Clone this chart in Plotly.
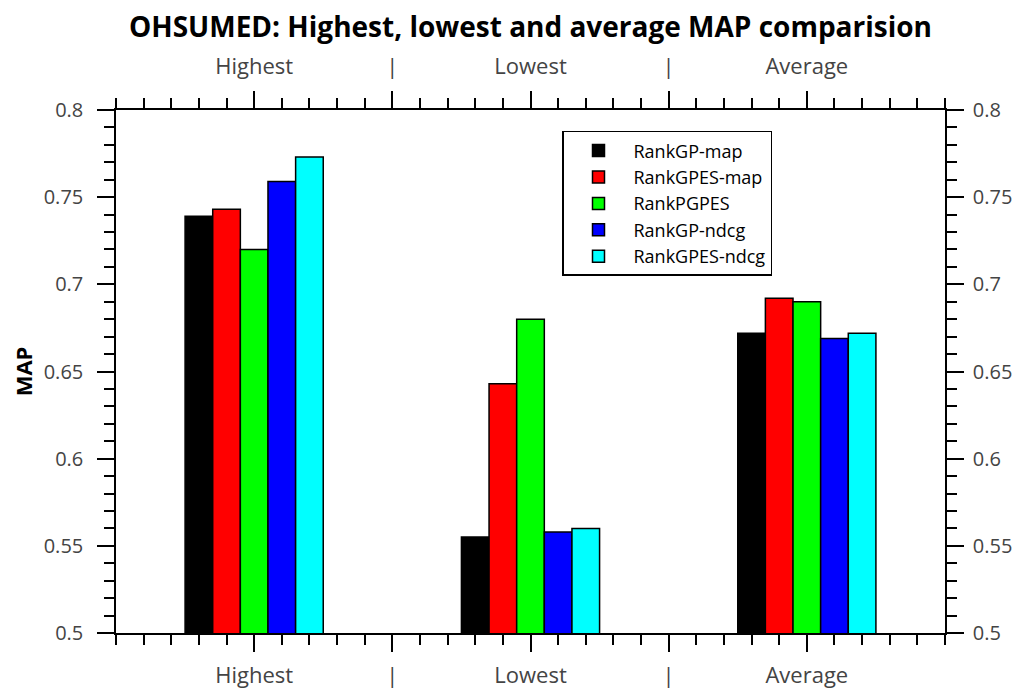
import plotly.graph_objects as go

groups = ["Highest", "Lowest", "Average"]
group_pos = [1, 3, 5]
series_names = ["RankGP-map", "RankGPES-map", "RankPGPES", "RankGP-ndcg", "RankGPES-ndcg"]
series_colors = ["#000000", "#ff0000", "#00ff00", "#0000ff", "#00ffff"]
rankgp_map = [0.739, 0.555, 0.672]
rankgpes_map = [0.743, 0.643, 0.692]
rankpgpes = [0.720, 0.680, 0.690]
rankgp_ndcg = [0.759, 0.558, 0.669]
rankgpes_ndcg = [0.773, 0.560, 0.672]
series_values = [rankgp_map, rankgpes_map, rankpgpes, rankgp_ndcg, rankgpes_ndcg]
x_tickvals = [1, 2, 3, 4, 5]
x_ticktext = ["Highest", "|", "Lowest", "|", "Average"]
y_tickvals = [0.5, 0.55, 0.6, 0.65, 0.7, 0.75, 0.8]
y_ticktext = ["0.5", "0.55", "0.6", "0.65", "0.7", "0.75", "0.8"]

FONT = "Open Sans"
fig = go.Figure()
bw = 0.2
for i, (name, col, vals) in enumerate(zip(series_names, series_colors, series_values)):
    fig.add_trace(go.Bar(
        x=group_pos, y=vals, name=name,
        width=bw, offset=-0.5 + i * bw,
        marker=dict(color=col, line=dict(color="black", width=1.5)),
    ))

axis_common = dict(
    showline=True, linecolor="black", linewidth=1.5, automargin=False,
    ticks="outside", ticklen=17, tickwidth=1.5, tickcolor="black",
    showgrid=False, zeroline=False, mirror=False, ticklabeloverflow="allow",
)
xa = dict(axis_common, range=[0, 6], tickmode="array", tickvals=x_tickvals, ticktext=x_ticktext,
          tickfont=dict(family=FONT, size=22, color="#444444"),
          minor=dict(dtick=0.2, tick0=0, ticklen=10, tickwidth=1.5, tickcolor="black", ticks="outside", showgrid=False))
ya = dict(axis_common, range=[0.5, 0.8], tickmode="array", tickvals=y_tickvals, ticktext=y_ticktext,
          tickfont=dict(family=FONT, size=20, color="#444444"),
          minor=dict(dtick=0.01, tick0=0.5, ticklen=10, tickwidth=1.5, tickcolor="black", ticks="outside", showgrid=False))

fig.update_layout(
    width=1021, height=692,
    margin=dict(l=108, r=84, t=102, b=67),
    paper_bgcolor="white", plot_bgcolor="white",
    barmode="overlay",
    title=dict(text="<b>OHSUMED: Highest, lowest and average MAP comparision</b>",
               x=0.5, xref="paper", y=0.972, yanchor="middle",
               font=dict(family=FONT, size=28, color="black")),
    xaxis=dict(xa, side="bottom", ticklabelstandoff=5),
    xaxis2=dict(xa, side="top", overlaying="x", matches="x", ticklabelstandoff=8),
    yaxis=dict(ya, side="left", ticklabelstandoff=10,
               title=dict(text="<b>MAP</b>", font=dict(family=FONT, size=22, color="black"), standoff=14)),
    yaxis2=dict(ya, side="right", overlaying="y", matches="y", ticklabelstandoff=5),
    legend=dict(x=0.538, y=0.96, xanchor="left", yanchor="top",
                bordercolor="black", borderwidth=1.5, bgcolor="white",
                font=dict(family=FONT, size=18, color="black"),
                itemwidth=60, traceorder="normal"),
    showlegend=True,
)
# invisible trace to activate secondary axes
fig.add_trace(go.Scatter(x=[0, 6], y=[0.5, 0.8], xaxis="x2", yaxis="y2", mode="markers",
                         marker=dict(opacity=0), showlegend=False, hoverinfo="skip"))
fig.write_html("out.html")
